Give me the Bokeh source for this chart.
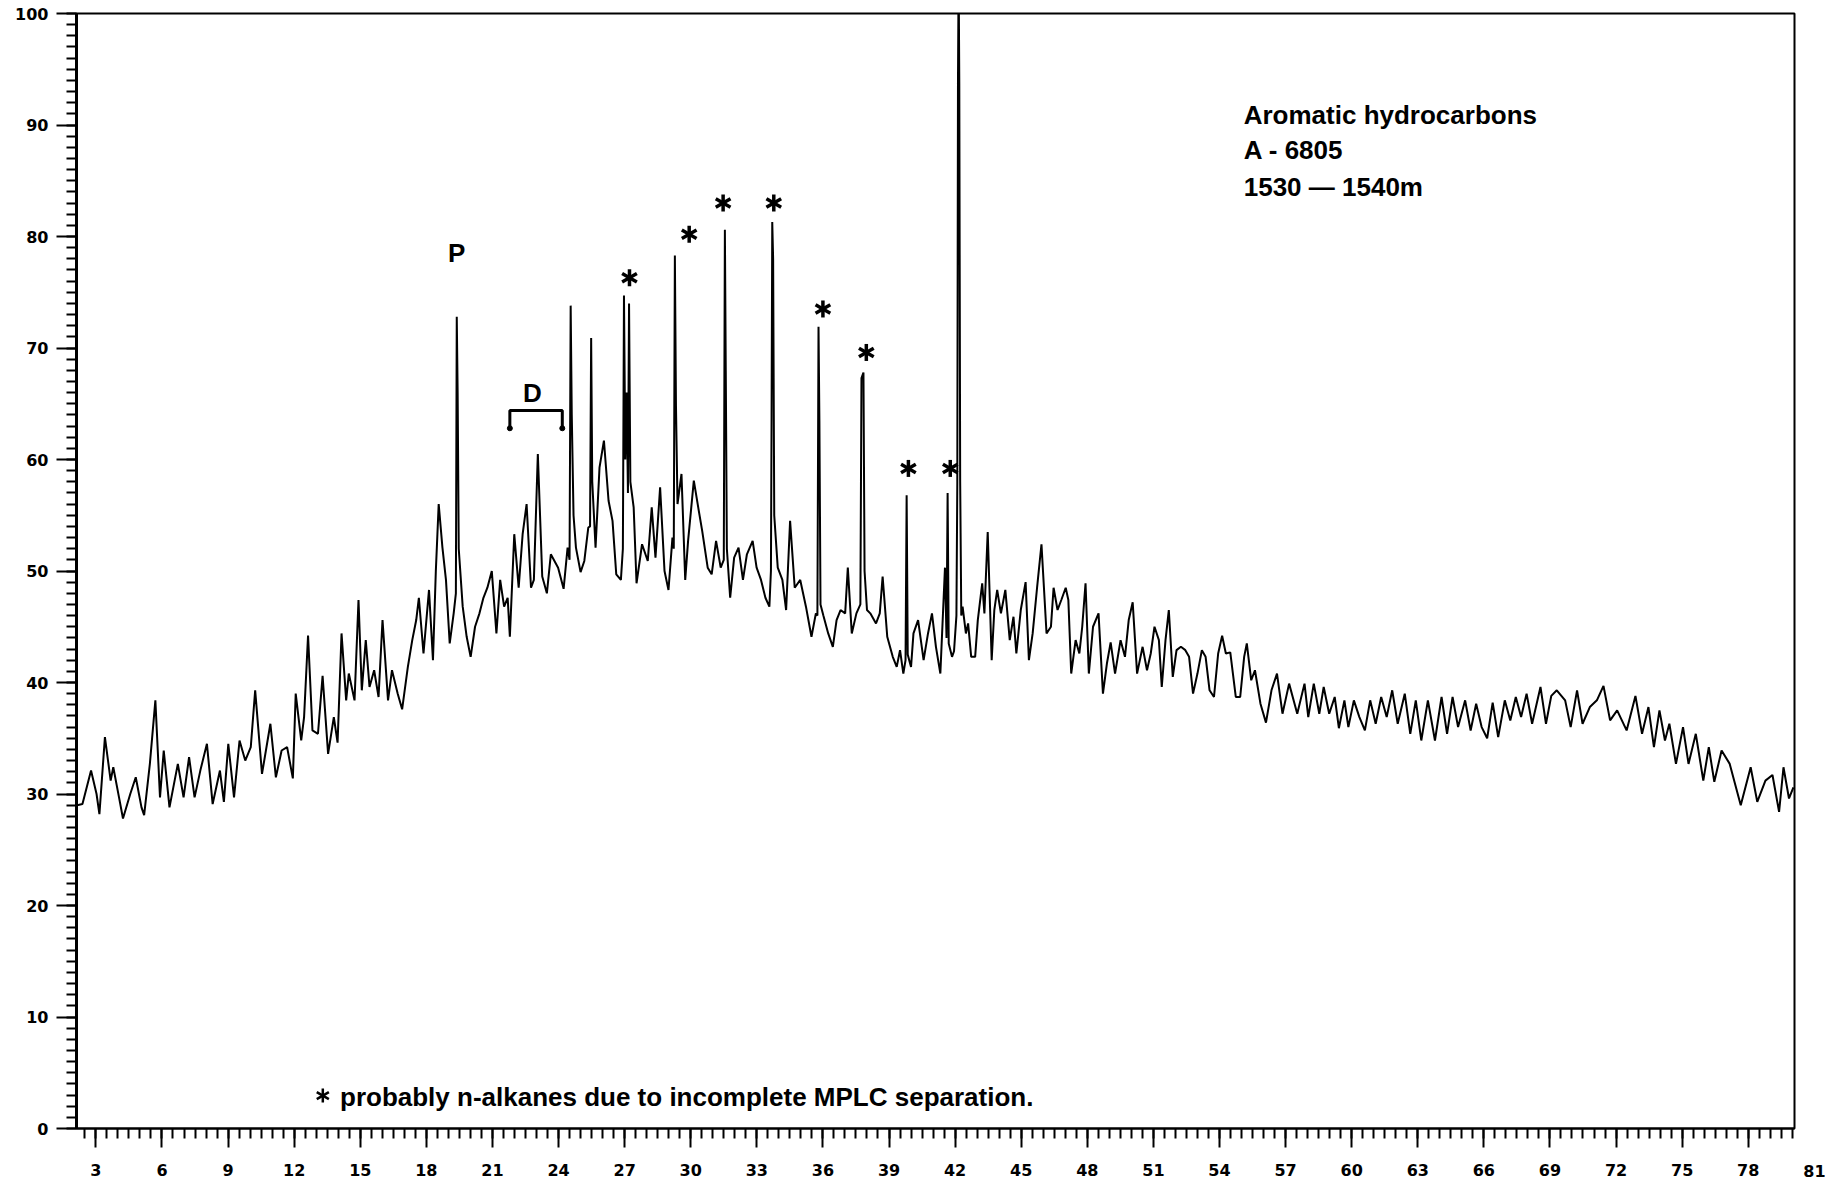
from bokeh.plotting import figure
from bokeh.models import SingleIntervalTicker, Range1d, Label
from bokeh.embed import file_html
from bokeh.resources import INLINE
from bokeh.core.properties import value
import math

# ---- chromatogram trace (retention scale, relative intensity) ----
rt = [
    2.15, 2.39, 2.78, 3.03, 3.16, 3.41, 3.67, 3.79, 4.05, 4.23, 4.56, 4.81, 5.07, 5.19, 5.45, 5.70, 5.91, 6.08, 6.34,
    6.72, 6.98, 7.23, 7.48, 7.74, 8.04, 8.30, 8.63, 8.81, 9.01, 9.27, 9.52, 9.78, 10.03, 10.23, 10.54, 10.92, 11.17,
    11.43, 11.68, 11.94, 12.07, 12.32, 12.45, 12.63, 12.83, 13.08, 13.29, 13.54, 13.80, 13.97, 14.15, 14.36, 14.48,
    14.74, 14.92, 15.07, 15.25, 15.42, 15.63, 15.83, 16.01, 16.26, 16.44, 16.70, 16.90, 17.16, 17.36, 17.54, 17.66,
    17.87, 18.12, 18.30, 18.43, 18.56, 18.73, 18.89, 19.06, 19.24,
    19.34, 19.38, 19.42, 19.47,
    19.65, 19.83, 20.01, 20.21, 20.41, 20.59, 20.77, 20.97, 21.18, 21.35, 21.53, 21.69, 21.79, 21.99, 22.19, 22.37,
    22.55, 22.75, 22.88, 23.06, 23.26, 23.47, 23.65, 23.98, 24.23, 24.41,
    24.50, 24.55, 24.60, 24.68,
    24.79, 25.00, 25.17, 25.35,
    25.43, 25.48, 25.53,
    25.68, 25.86, 26.06, 26.27, 26.45, 26.62, 26.83,
    26.92, 26.97, 27.03, 27.09, 27.15, 27.20, 27.26,
    27.41, 27.54, 27.79, 28.05, 28.23, 28.40, 28.61, 28.81, 28.99, 29.17,
    29.23, 29.28, 29.33, 29.40,
    29.58, 29.75, 29.88, 30.14, 30.34, 30.52, 30.77, 30.95, 31.15, 31.36,
    31.50, 31.55, 31.59, 31.64,
    31.79, 31.97, 32.17, 32.37, 32.55, 32.81, 32.99, 33.19, 33.39, 33.57,
    33.64, 33.67, 33.70, 33.74, 33.79,
    33.95, 34.16, 34.33, 34.51, 34.72, 34.97, 35.23, 35.48, 35.68,
    35.75, 35.80, 35.84, 35.89,
    36.02, 36.24, 36.45, 36.62, 36.80, 37.01, 37.13, 37.31, 37.52,
    37.70, 37.75, 37.84, 37.89,
    38.00, 38.15, 38.41, 38.58, 38.71, 38.92, 39.17, 39.35, 39.50, 39.65,
    39.75, 39.80, 39.85,
    40.00, 40.11, 40.32, 40.57, 40.77, 40.95, 41.13, 41.33, 41.54,
    41.61, 41.66, 41.71,
    41.86, 41.95,
    42.06, 42.10, 42.13, 42.16, 42.19, 42.23, 42.28,
    42.34, 42.49, 42.59, 42.73, 42.91, 43.03, 43.23, 43.33, 43.48, 43.66, 43.78, 43.91, 44.08, 44.28, 44.48, 44.65,
    44.78, 44.98, 45.20, 45.35, 45.52, 45.72, 45.92, 46.15, 46.35, 46.47, 46.65, 46.82, 47.02, 47.14, 47.27, 47.47,
    47.64, 47.77, 47.92, 48.07, 48.26, 48.51, 48.71, 48.89, 49.06, 49.26, 49.51, 49.71, 49.88, 50.06, 50.26, 50.51,
    50.71, 50.88, 51.05, 51.25, 51.38, 51.55, 51.70, 51.88, 52.05, 52.25, 52.45, 52.62, 52.80, 53.00, 53.20, 53.37,
    53.55, 53.75, 53.94, 54.12, 54.29, 54.49, 54.74, 54.94, 55.12, 55.24, 55.44, 55.61, 55.86, 56.11, 56.36, 56.61,
    56.86, 57.16, 57.53, 57.86, 58.03, 58.28, 58.53, 58.73, 58.98, 59.23, 59.42, 59.67, 59.85, 60.10, 60.35, 60.60,
    60.84, 61.09, 61.34, 61.59, 61.84, 62.09, 62.41, 62.66, 62.91, 63.16, 63.46, 63.78, 64.08, 64.33, 64.58, 64.83,
    65.15, 65.40, 65.65, 65.90, 66.15, 66.40, 66.65, 66.95, 67.20, 67.45, 67.69, 67.94, 68.19, 68.57, 68.82, 69.06,
    69.31, 69.69, 69.94, 70.23, 70.48, 70.81, 71.13, 71.43, 71.73, 72.05, 72.48, 72.88, 73.18, 73.47, 73.72, 73.97,
    74.22, 74.42, 74.72, 75.04, 75.29, 75.62, 75.96, 76.21, 76.46, 76.79, 77.16, 77.66, 78.11, 78.41, 78.78, 79.10,
    79.40, 79.60, 79.85, 80.05,
]

intensity = [
    29.0, 29.1, 32.1, 30.0, 28.2, 35.1, 31.2, 32.4, 29.7, 27.8, 30.0, 31.5, 28.8, 28.1, 32.7, 38.4, 29.7, 33.9, 28.8,
    32.7, 29.7, 33.3, 29.7, 32.1, 34.5, 29.1, 32.1, 29.3, 34.5, 29.7, 34.8, 33.0, 34.2, 39.3, 31.8, 36.3, 31.5,
    33.9, 34.2, 31.4, 39.0, 34.8, 36.9, 44.2, 35.7, 35.4, 40.6, 33.6, 36.9, 34.6, 44.4, 38.4, 40.8,
    38.4, 47.4, 39.3, 43.8, 39.6, 41.1, 38.7, 45.6, 38.4, 41.1, 39.0, 37.6, 41.4, 43.8, 45.6, 47.6,
    42.6, 48.3, 42.0, 50.0, 56.0, 52.1, 49.2, 43.5, 46.2,
    48.0, 72.8, 66.0, 52.0,
    46.8, 44.1, 42.3, 45.0, 46.2, 47.6, 48.5, 50.0, 44.4, 49.2, 46.8, 47.6, 44.1, 53.3, 48.5, 53.3,
    56.0, 48.5, 49.2, 60.5, 49.5, 48.0, 51.5, 50.3, 48.4, 52.1,
    51.0, 73.8, 64.0, 55.0,
    52.1, 49.9, 50.9, 53.9,
    54.0, 70.9, 58.0,
    52.1, 59.3, 61.7, 56.3, 54.5, 49.7, 49.2,
    52.0, 74.7, 60.0, 66.0, 57.0, 74.0, 58.0,
    55.7, 48.9, 52.4, 50.9, 55.7, 51.2, 57.5, 50.0, 48.3, 53.0,
    52.0, 78.3, 64.8, 56.0,
    58.7, 49.2, 52.7, 58.1, 55.7, 53.6, 50.3, 49.7, 52.7, 50.3,
    51.0, 80.6, 68.0, 52.0,
    47.6, 51.2, 52.1, 49.2, 51.5, 52.7, 50.3, 49.2, 47.6, 46.8,
    50.0, 64.0, 81.3, 78.0, 55.0,
    50.3, 49.2, 46.5, 54.5, 48.5, 49.2, 46.8, 44.1, 46.2,
    46.0, 71.9, 63.5, 47.0,
    46.0, 44.4, 43.2, 45.6, 46.5, 46.2, 50.3, 44.4, 46.2,
    47.0, 67.3, 67.8, 50.0,
    46.5, 46.2, 45.3, 46.2, 49.5, 44.1, 42.3, 41.4, 42.9, 40.8,
    42.0, 56.8, 42.5,
    41.4, 44.4, 45.6, 42.0, 44.4, 46.2, 43.2, 40.8, 50.3,
    44.0, 57.0, 43.5,
    42.3, 42.8,
    46.0, 58.0, 93.7, 104.0, 93.7, 58.0, 46.0,
    46.8, 44.4, 45.3, 42.3, 42.3, 45.6, 48.9, 46.2, 53.5, 42.0, 46.5, 48.3, 46.2, 48.3, 43.8, 45.9,
    42.6, 46.5, 49.0, 42.0, 44.4, 48.5, 52.4, 44.4, 45.0, 48.5, 46.5, 47.4, 48.5, 47.4, 40.8, 43.8,
    42.6, 45.0, 48.9, 40.8, 45.0, 46.2, 39.0, 41.7, 43.6, 40.8, 43.8, 42.3, 45.6, 47.2, 40.8, 43.2,
    41.1, 42.6, 45.0, 43.8, 39.6, 43.8, 46.5, 40.5, 42.9, 43.2, 42.9, 42.3, 39.0, 40.8, 42.9, 42.3,
    39.3, 38.7, 42.6, 44.2, 42.6, 42.7, 38.7, 38.7, 42.3, 43.5, 40.2, 41.1, 38.1, 36.4, 39.3, 40.8,
    37.2, 39.9, 37.2, 39.9, 36.9, 39.9, 37.2, 39.6, 37.2, 38.7, 35.9, 38.4, 36.0, 38.4, 36.9, 35.7,
    38.4, 36.3, 38.7, 36.9, 39.3, 36.3, 39.0, 35.4, 38.4, 34.8, 38.4, 34.8, 38.7, 35.4, 38.7, 36.0,
    38.4, 35.7, 38.1, 36.0, 35.0, 38.2, 35.1, 38.4, 36.6, 38.7, 36.9, 39.0, 36.3, 39.6, 36.3, 38.8,
    39.3, 38.4, 36.0, 39.3, 36.3, 37.8, 38.4, 39.7, 36.6, 37.5, 35.7, 38.8, 35.4, 37.8, 34.2, 37.5,
    34.8, 36.3, 32.7, 36.0, 32.7, 35.4, 31.2, 34.2, 31.1, 33.9, 32.7, 29.0, 32.4, 29.3, 31.2, 31.7,
    28.4, 32.4, 29.6, 30.6,
]

# ---- annotations ----
title_lines = ["Aromatic hydrocarbons", "A - 6805", "1530 \u2014 1540m"]
title_x = [55.1, 55.1, 55.1]
title_y = [90.9, 87.78, 84.44]

peak_labels = ["P", "D"]
peak_label_x = [19.38, 22.81]
peak_label_y = [78.5, 66.0]

bracket_x = [21.79, 21.79, 24.17, 24.17]
bracket_y = [62.8, 64.4, 64.4, 62.8]

star_x = [27.22, 29.93, 31.47, 33.77, 36.0, 37.97, 39.88, 41.78]
star_y = [76.3, 80.2, 83.0, 83.0, 73.5, 69.6, 59.2, 59.2]

note_star_x = [13.30]
note_star_y = [2.95]
note_text = "probably n-alkanes due to incomplete MPLC separation."
note_x = 14.08
note_y = 2.83

last_tick_label = "81"

p = figure(width=1825, height=1183, x_range=Range1d(2.12, 80.1), y_range=Range1d(0, 100),
           output_backend="svg", toolbar_location=None,
           min_border_left=76, min_border_right=31, min_border_top=13, min_border_bottom=55)
p.background_fill_color = "white"
p.border_fill_color = "white"
p.xgrid.visible = False
p.ygrid.visible = False
p.outline_line_color = "black"
p.outline_line_width = 2

p.xaxis.ticker = SingleIntervalTicker(interval=3, num_minor_ticks=6)
p.yaxis.ticker = SingleIntervalTicker(interval=10, num_minor_ticks=10)
for ax in (p.xaxis[0], p.yaxis[0]):
    ax.axis_line_color = "black"
    ax.major_tick_in = 0
    ax.minor_tick_in = 0
    ax.minor_tick_out = 10
    ax.major_tick_line_color = "black"
    ax.minor_tick_line_color = "black"
    ax.major_tick_line_width = 2
    ax.minor_tick_line_width = 2
    ax.major_label_text_font = "DejaVu Sans"
    ax.major_label_text_font_style = "bold"
    ax.major_label_text_font_size = "16px"
    ax.major_label_text_color = "black"
p.yaxis.axis_line_width = 3
p.xaxis.axis_line_width = 2
p.yaxis.major_tick_out = 20
p.xaxis.major_tick_out = 19
p.yaxis.major_label_standoff = 8
p.xaxis.major_label_standoff = 16

p.line(rt, intensity, line_color="black", line_width=2)

p.line(bracket_x, bracket_y, line_color="black", line_width=3)
p.scatter([bracket_x[0], bracket_x[-1]], [bracket_y[0], bracket_y[-1]], size=5, color="black")

for ang in (math.pi / 2, math.pi / 6, -math.pi / 6):
    p.scatter(star_x, star_y, marker="dash", size=17, angle=ang, line_color="black", line_width=3.5)
    p.scatter(note_star_x, note_star_y, marker="dash", size=14, angle=ang, line_color="black", line_width=2.5)

p.text(title_x, title_y, text=title_lines, text_font=value("Liberation Sans"), text_font_style="bold",
       text_font_size="26px", text_baseline="alphabetic", text_align="left", text_color="black")
p.text(peak_label_x, peak_label_y, text=peak_labels, text_font=value("Liberation Sans"), text_font_style="bold",
       text_font_size="26px", text_baseline="middle", text_align="center", text_color="black")
p.text([note_x], [note_y], text=[note_text], text_font=value("Liberation Sans"), text_font_style="bold",
       text_font_size="26px", text_baseline="alphabetic", text_align="left", text_color="black")

# label of the last tick (81), which sits just beyond the frame's right edge
p.add_layout(Label(x=20, y=-42, x_units="screen", y_units="screen", text=last_tick_label,
                   text_align="center", text_baseline="middle",
                   text_font="DejaVu Sans", text_font_style="bold", text_font_size="16px", text_color="black"),
             "right")

open("out.html", "w").write(file_html(p, INLINE))
